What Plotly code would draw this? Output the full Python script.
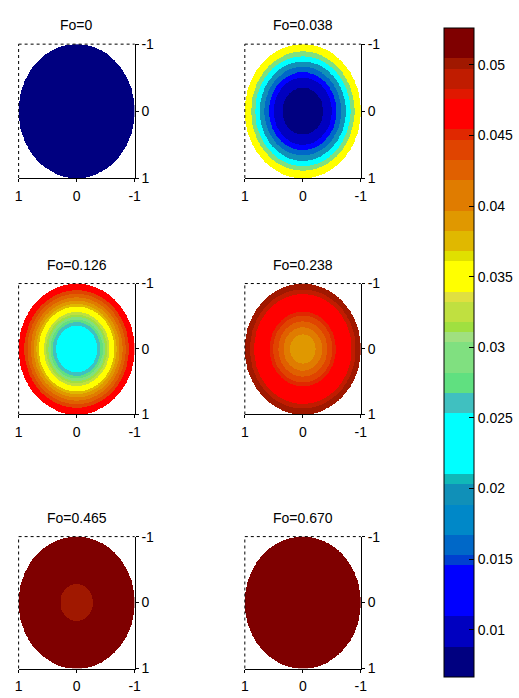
import numpy as np
import plotly.graph_objects as go

W, H = 519, 698

# Colormap bands, bottom to top: colour and number of colormap steps it covers
band_colors = ["#000080", "#0000C0", "#0000FF", "#0040D0", "#0068C8", "#0088C8",
               "#1090B8", "#10B8B8", "#00FFFF", "#40C0C0", "#60E080", "#80E080",
               "#A0E080", "#A0E040", "#C0E040", "#E0E040", "#FFFF00", "#E0E000",
               "#E0B800", "#E09800", "#E07C00", "#E06000", "#E04400", "#E02800",
               "#FF0000", "#E01800", "#C01C00", "#A01800", "#7F0000"]
band_steps = [3, 3, 5, 1, 2, 3, 2, 1, 6, 2, 2, 3, 1, 1, 2, 1, 3, 1, 2, 2, 3, 2, 2, 1, 3, 1, 2, 1, 3]
c_min, c_max = 0.00665, 0.05262

cbar_ticks = [0.01, 0.015, 0.02, 0.025, 0.03, 0.035, 0.04, 0.045, 0.05]
cbar_text = ["0.01", "0.015", "0.02", "0.025", "0.03", "0.035", "0.04", "0.045", "0.05"]

# Fourier-number snapshots
panel_titles = ["Fo=0", "Fo=0.038", "Fo=0.126", "Fo=0.238", "Fo=0.465", "Fo=0.670"]

# Concentration zones in each cross-section, outermost first:
# normalised outer radius of the zone and the concentration inside it
ring_radius_0 = [1.0]
ring_value_0 = [0.0077]

ring_radius_1 = [1.0, 0.89, 0.82, 0.74, 0.66, 0.58, 0.50, 0.35]
ring_value_1 = [0.0350, 0.0293, 0.0232, 0.0196, 0.0160, 0.0128, 0.0099, 0.0077]

ring_radius_2 = [1.0, 0.90, 0.845, 0.79, 0.74, 0.69, 0.65, 0.565, 0.525, 0.49, 0.45, 0.41, 0.355]
ring_value_2 = [0.0465, 0.0440, 0.0426, 0.0408, 0.0390, 0.0376, 0.0350, 0.0325, 0.0315,
                0.0293, 0.0275, 0.0260, 0.0232]

ring_radius_3 = [1.0, 0.91, 0.84, 0.57, 0.51, 0.42, 0.33, 0.22]
ring_value_3 = [0.0501, 0.0490, 0.0465, 0.0451, 0.0440, 0.0426, 0.0408, 0.0390]

ring_radius_4 = [1.0, 0.28]
ring_value_4 = [0.0515, 0.0501]

ring_radius_5 = [1.0]
ring_value_5 = [0.0515]

ring_radii = [ring_radius_0, ring_radius_1, ring_radius_2, ring_radius_3, ring_radius_4, ring_radius_5]
ring_values = [ring_value_0, ring_value_1, ring_value_2, ring_value_3, ring_value_4, ring_value_5]

# Discrete colorscale built from the bands
edges = np.concatenate([[0], np.cumsum(band_steps)]) / sum(band_steps)
colorscale = []
for k, col in enumerate(band_colors):
    colorscale.append([float(edges[k]), col])
    colorscale.append([float(edges[k + 1]), col])

# Pixel boxes of the six axes (left, right, top, bottom)
col_px = [(15, 134), (247, 366)]
row_px = [(37, 174), (282, 416), (541, 676)]

n = 260
g = -1 + (np.arange(n) + 0.5) * 2 / n
X, Y = np.meshgrid(g, g)
R = np.sqrt(X ** 2 + Y ** 2)

fig = go.Figure()
font = dict(family="Liberation Sans, Arial, sans-serif", size=14, color="black")

for i in range(6):
    r, c = divmod(i, 2)
    Z = np.full(R.shape, np.nan)
    for rad, val in zip(ring_radii[i], ring_values[i]):
        Z[R <= rad] = val
    ax = "" if i == 0 else str(i + 1)
    fig.add_trace(go.Heatmap(
        x=g, y=g, z=Z, coloraxis="coloraxis", zsmooth=False,
        xaxis="x" + ax, yaxis="y" + ax, hoverinfo="skip",
    ))
    x0, x1 = col_px[c]
    y0, y1 = row_px[r]
    fig.layout["xaxis" + ax] = dict(
        domain=[x0 / W, x1 / W], anchor="y" + ax, range=[1, -1],
        tickvals=[1, 0, -1], ticktext=["1", "0", "-1"], ticks="outside",
        ticklen=3, tickcolor="black", showline=True, linecolor="black",
        linewidth=1, showgrid=False, zeroline=False, tickfont=font,
        ticklabelstandoff=2,
    )
    fig.layout["yaxis" + ax] = dict(
        domain=[1 - y1 / H, 1 - y0 / H], anchor="x" + ax, range=[1, -1],
        side="right", tickvals=[-1, 0, 1], ticktext=["-1", "0", "1"],
        ticks="outside", ticklen=3, tickcolor="black", showline=True,
        linecolor="black", linewidth=1, showgrid=False, zeroline=False,
        tickfont=font,
    )
    # dotted top and left box edges
    xd, yd = "x" + ax + " domain", "y" + ax + " domain"
    fig.add_shape(type="line", xref=xd, yref=yd, x0=0, x1=1, y0=1, y1=1,
                  line=dict(color="black", width=1, dash="dot"))
    fig.add_shape(type="line", xref=xd, yref=yd, x0=0, x1=0, y0=0, y1=1,
                  line=dict(color="black", width=1, dash="dot"))
    fig.add_annotation(text=panel_titles[i], xref=xd, yref=yd, x=0.5, y=1,
                       xanchor="center", yanchor="middle", yshift=19,
                       showarrow=False, font=font)

fig.update_layout(
    width=W, height=H, margin=dict(l=0, r=0, t=0, b=0),
    paper_bgcolor="white", plot_bgcolor="white", showlegend=False,
    coloraxis=dict(
        colorscale=colorscale, cmin=c_min, cmax=c_max,
        colorbar=dict(
            x=451 / W, xanchor="left", xpad=0, ypad=0,
            y=1 - 352.5 / H, yanchor="middle", len=649, lenmode="pixels",
            thickness=30, thicknessmode="pixels",
            outlinewidth=1, outlinecolor="black",
            tickvals=cbar_ticks, ticktext=cbar_text,
            ticks="inside", ticklen=5, tickcolor="black", tickwidth=1,
            tickfont=font,
        ),
    ),
)

fig.write_html("out.html")
